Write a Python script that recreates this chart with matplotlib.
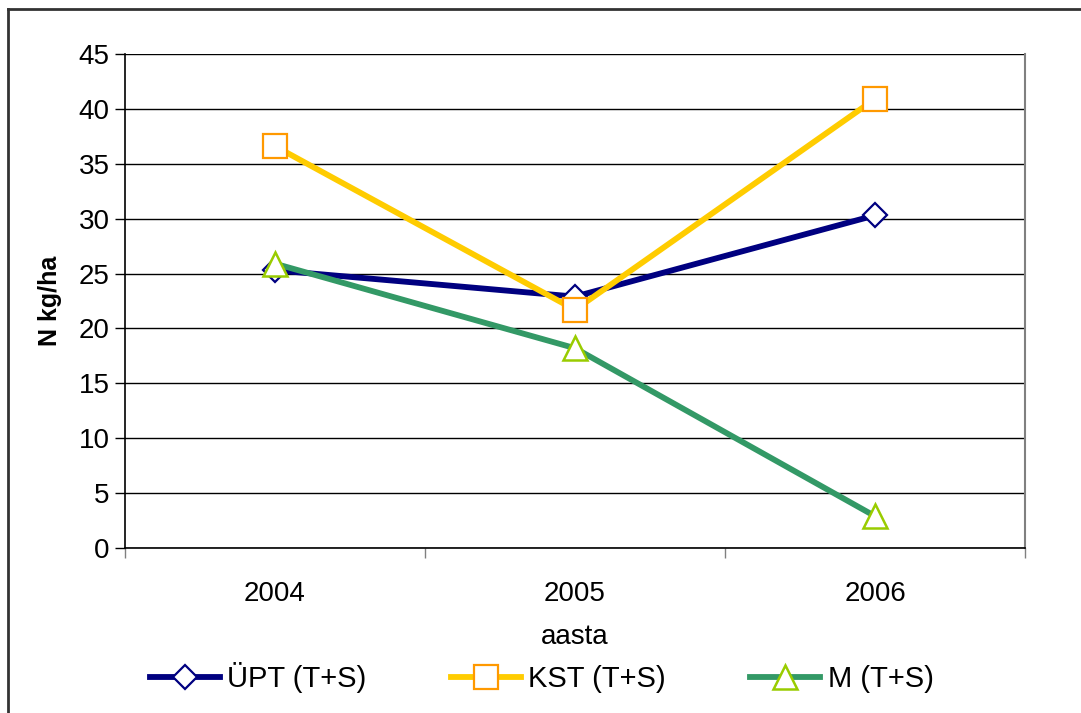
import matplotlib
matplotlib.use("Agg")
import matplotlib.pyplot as plt
from matplotlib.lines import Line2D

plt.rcParams['font.family'] = ['Liberation Sans', 'DejaVu Sans']

years = ['2004', '2005', '2006']
upt = [25.3, 22.9, 30.3]
kst = [36.6, 21.7, 40.9]
m_vals = [25.9, 18.2, 2.9]
series_labels = ['ÜPT (T+S)', 'KST (T+S)', 'M (T+S)']
y_ticks = [0, 5, 10, 15, 20, 25, 30, 35, 40, 45]

W, H = 1081, 713
fig = plt.figure(figsize=(W / 100, H / 100), dpi=100)
ax = fig.add_axes([125 / W, (H - 548) / H, 900 / W, 494 / H])

x = range(len(years))
ax.plot(x, upt, color='#000080', lw=4.2, marker='D', ms=12,
        mfc='white', mec='#000080', mew=1.6, label=series_labels[0], zorder=3)
ax.plot(x, kst, color='#FFCC00', lw=4.2, marker='s', ms=17,
        mfc='white', mec='#FF9900', mew=1.6, label=series_labels[1], zorder=3)
ax.plot(x, m_vals, color='#339966', lw=4.2, marker='^', ms=17,
        mfc='white', mec='#99CC00', mew=1.8, label=series_labels[2], zorder=4)

ax.set_xlim(-0.5, 2.5)
ax.set_ylim(0, 45)
ax.set_yticks(y_ticks)
ax.set_xticks(list(x))
ax.set_xticklabels(years)
ax.set_xticks([-0.5, 0.5, 1.5, 2.5], minor=True)
ax.tick_params(axis='x', which='major', length=0, pad=24, labelsize=20)
ax.tick_params(axis='x', which='minor', length=7, width=1, color='#808080')
ax.tick_params(axis='y', length=7, width=1, labelsize=20, pad=4, direction='out')

ax.grid(axis='y', color='black', lw=1)
ax.set_axisbelow(True)
for side in ['left', 'bottom']:
    ax.spines[side].set_color('black')
    ax.spines[side].set_linewidth(1.2)
ax.spines['top'].set_visible(False)
ax.spines['right'].set_color('#808080')
ax.spines['right'].set_linewidth(1.5)

ax.set_ylabel('N kg/ha', fontsize=18, fontweight='bold', labelpad=12)
ax.set_xlabel('aasta', fontsize=20, labelpad=12)

ax.legend(loc='center', bbox_to_anchor=(0.463, -0.262), ncol=3,
          frameon=False, fontsize=21, handlelength=2.4, columnspacing=2.9,
          handletextpad=0.25, borderaxespad=0)

# outer chart frame
fig.add_artist(Line2D([8 / W, 8 / W], [0, (H - 9) / H], color='#333333', lw=2,
                      transform=fig.transFigure))
fig.add_artist(Line2D([8 / W, 1], [(H - 9) / H, (H - 9) / H], color='#333333', lw=2,
                      transform=fig.transFigure))

fig.savefig('out.png', dpi=100)
